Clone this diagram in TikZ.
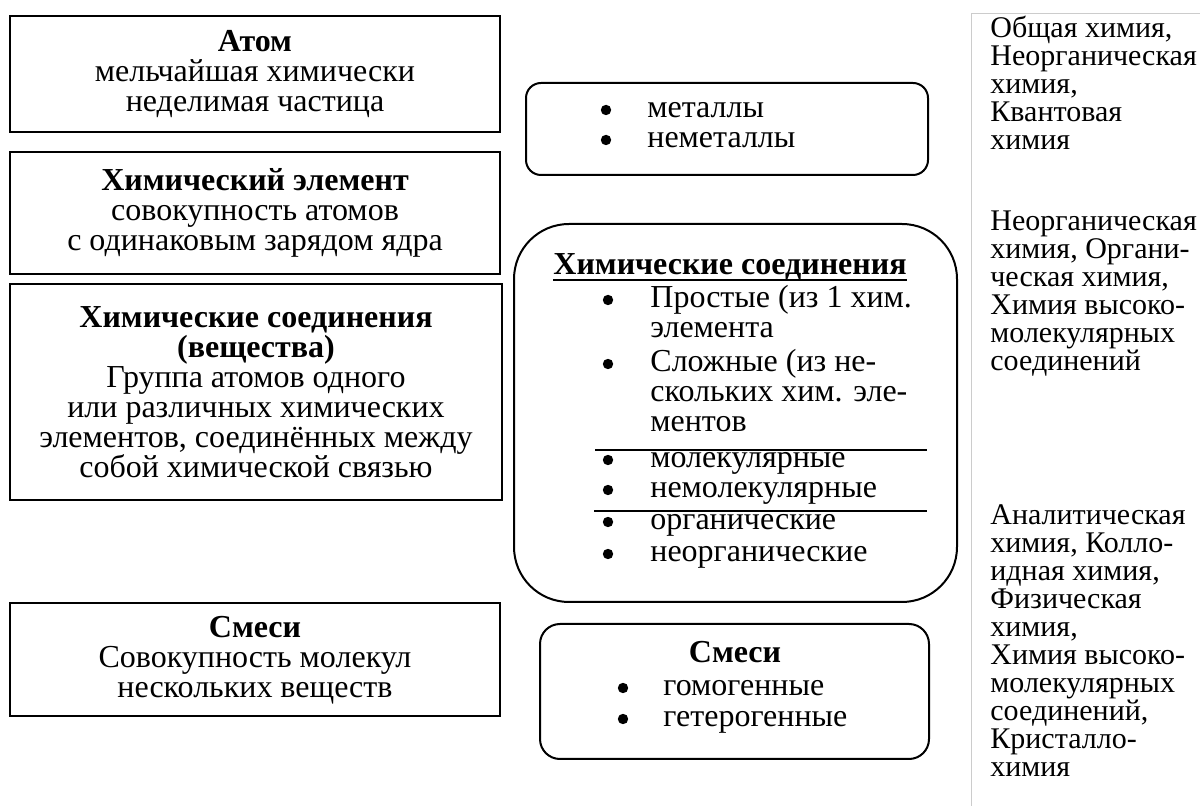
\documentclass[tikz,border=0pt]{standalone}
\usepackage{fontspec}
\setmainfont{Liberation Serif}
\begin{document}
\begin{tikzpicture}[x=0.5pt,y=-0.5pt,
  sqbox/.style={draw, line width=1pt, inner sep=0pt, align=center, font=\fontsize{16}{15}\selectfont},
  rbox/.style={draw, line width=1pt, inner sep=0pt},
  txt/.style={inner sep=0pt, anchor=mid west, font=\fontsize{16}{15}\selectfont},
  bul/.style={circle, fill=black, inner sep=0pt, minimum size=5.2pt, yshift=1.5pt},
  hdr/.style={inner sep=0pt, anchor=mid, font=\fontsize{16}{15}\selectfont\bfseries},
  side/.style={inner sep=0pt, anchor=mid west, font=\fontsize{15}{14}\selectfont},
  sep/.style={line width=0.7pt},
]
\useasboundingbox (0,0) rectangle (1200,806);

% left boxes
\node[sqbox, minimum width=245pt, minimum height=58pt] (atom) at (255,74)
  {\textbf{Атом}\\мельчайшая химически\\неделимая частица};
\node[sqbox, minimum width=245pt, minimum height=61pt] (elem) at (255,213)
  {\textbf{Химический элемент}\\совокупность атомов\\с одинаковым зарядом ядра};
\node[sqbox, minimum width=246pt, minimum height=108pt] (subst) at (256,392)
  {\textbf{Химические соединения}\\\textbf{(вещества)}\\Группа атомов одного\\или различных химических\\элементов, соединённых между\\собой химической связью};
\node[sqbox, minimum width=245pt, minimum height=56.5pt] (mix) at (255,660)
  {\textbf{Смеси}\\Совокупность молекул\\нескольких веществ};

% middle rounded boxes
\node[rbox, rounded corners=7.5pt, minimum width=201pt, minimum height=46pt] (metals) at (727,129) {};
\node[rbox, rounded corners=27.5pt, minimum width=221.5pt, minimum height=189pt] (comp) at (735.5,413) {};
\node[rbox, rounded corners=10pt, minimum width=194.5pt, minimum height=67.5pt] (mixr) at (734.5,691.5) {};

% metals list
\foreach \y/\t in {113/металлы, 143/неметаллы} {
  \node[bul] (mb\y) at (606,\y) {};
  \node[txt] (mt\y) at (647,\y) {\t};
}

% compounds
\node[hdr] (comph) at (730,270) {Химические соединения};
\draw[line width=1pt] ([yshift=-2.6pt]comph.base west) -- ([yshift=-2.6pt]comph.base east);
\foreach \y in {303, 367, 463, 493, 525, 557} {
  \node[bul] (cb\y) at (608,\y) {};
}
\foreach \y/\t in {303/{Простые (из 1 хим.}, 333/элемента, 367/{Сложные (из не-}, 397/{скольких хим. эле-}, 427/ментов, 463/молекулярные, 493/немолекулярные, 525/органические, 557/неорганические} {
  \node[txt] (ct\y) at (650,\y) {\t};
}
\draw[sep] (595,450) -- (927,450);
\draw[line width=1.1pt] (594,511) -- (927,511);

% mixtures
\node[hdr] (mixh) at (735,658) {Смеси};
\foreach \y/\t in {691/гомогенные, 722/гетерогенные} {
  \node[bul] (xb\y) at (623,\y) {};
  \node[txt] (xt\y) at (663,\y) {\t};
}

% right column
\draw[black!20, line width=0.5pt] (971,806) -- (971,14) -- (1200,14);
\foreach \y/\t in {33/{Общая химия,}, 61/Неорганическая, 89/{химия,}, 117/Квантовая, 145/химия,
  226/Неорганическая, 254/{химия, Органи-}, 282/{ческая химия,}, 310/{Химия высоко-}, 338/молекулярных, 366/соединений,
  520/Аналитическая, 548/{химия, Колло-}, 576/{идная химия,}, 604/Физическая, 632/{химия,}, 660/{Химия высоко-}, 688/молекулярных, 716/{соединений,}, 744/Кристалло-, 772/химия} {
  \node[side] (r\y) at (990,\y) {\t};
}
\end{tikzpicture}
\end{document}
